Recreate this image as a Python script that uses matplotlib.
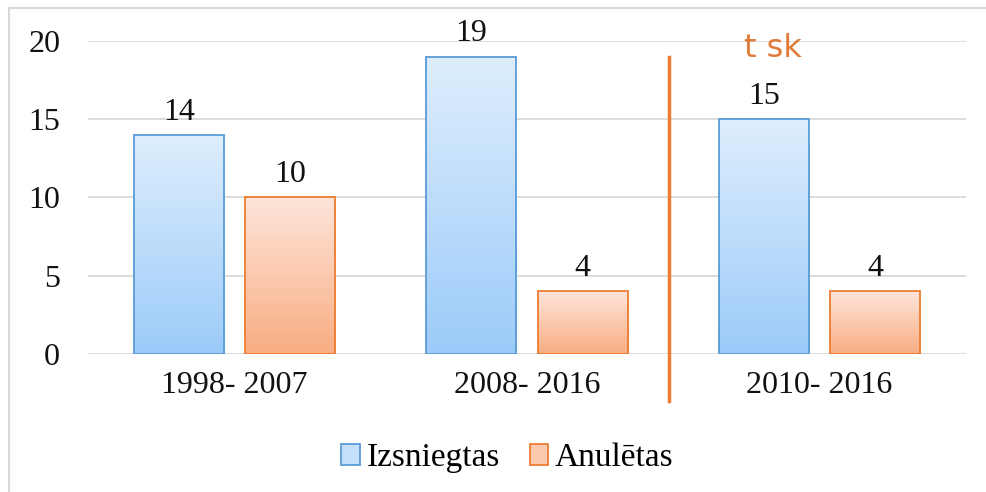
import matplotlib.pyplot as plt
import numpy as np
from matplotlib.patches import Patch
from matplotlib.lines import Line2D

periods = ["1998- 2007", "2008- 2016", "2010- 2016"]
izsniegtas = [14, 19, 15]
anuletas = [10, 4, 4]
series_names = ["Izsniegtas", "Anulētas"]
note_text = "t sk"

plt.rcParams["font.family"] = ["Liberation Serif", "DejaVu Serif"]

blue_top, blue_bottom, blue_edge = "#deeefd", "#9ccbf9", "#5b9bd5"
orange_top, orange_bottom, orange_edge = "#fde5da", "#f9ad82", "#ed7d31"
FS = 23

fig = plt.figure(figsize=(9.87, 4.92), dpi=100)
ax = fig.add_axes([88 / 987, 1 - 354 / 492, (966 - 88) / 987, (354 - 41) / 492])

x = np.arange(len(periods))
width = 0.308
offset = 0.19


def gradient_bars(xs, values, top, bottom, edge):
    bars = ax.bar(xs, values, width, facecolor="none", edgecolor=edge, linewidth=1.3, zorder=3)
    cmap = plt.matplotlib.colors.LinearSegmentedColormap.from_list("g", [bottom, top])
    grad = np.linspace(0, 1, 256).reshape(-1, 1)
    for bar in bars:
        x0, y0 = bar.get_x(), bar.get_y()
        w, h = bar.get_width(), bar.get_height()
        im = ax.imshow(grad, cmap=cmap, aspect="auto", origin="lower",
                       extent=[x0, x0 + w, y0, y0 + h], zorder=2)
        im.set_clip_path(bar)
    for xi, v in zip(xs, values):
        ax.annotate(str(v), (xi, v), xytext=(0, 6), textcoords="offset points",
                    ha="center", va="bottom", fontsize=FS, color="#111111")
    return bars


gradient_bars(x - offset, izsniegtas, blue_top, blue_bottom, blue_edge)
gradient_bars(x + offset, anuletas, orange_top, orange_bottom, orange_edge)

ax.set_xlim(-0.5, len(periods) - 0.5)
ax.set_ylim(0, 20)
ax.set_yticks([0, 5, 10, 15, 20])
ax.yaxis.grid(True, color="#d9d9d9", linewidth=1.3, zorder=0)
ax.set_axisbelow(True)
for s in ax.spines.values():
    s.set_visible(False)
ax.tick_params(length=0, labelsize=FS, colors="#111111")
ax.tick_params(axis="y", pad=20)
ax.tick_params(axis="x", pad=12)
ax.set_xticks(x)
ax.set_xticklabels(periods)

# orange separator line between the periods
ax.add_line(Line2D([1.486, 1.486], [19.0, -3.0], color=orange_edge, linewidth=2.5,
                   clip_on=False, zorder=4))
ax.text(1.84, 18.98, note_text, ha="center", va="baseline", fontsize=23,
        color="#e07b39", family="DejaVu Sans", clip_on=False, zorder=1)

handles = [Patch(facecolor="#c4e0fb", edgecolor=blue_edge, linewidth=1.3),
           Patch(facecolor="#fbc9ae", edgecolor=orange_edge, linewidth=1.3)]
fig.legend(handles, series_names, loc="center", bbox_to_anchor=(0.5 + 14 / 987, 1 - 458 / 492),
           ncol=2, frameon=False, fontsize=24, handlelength=0.55, handleheight=0.55,
           handletextpad=0.2, columnspacing=0.9)

# chart border (top and left)
fig.add_artist(Line2D([9 / 987, 9 / 987], [0, 1 - 8 / 492], color="#d9d9d9", linewidth=1.5,
                      transform=fig.transFigure))
fig.add_artist(Line2D([9 / 987, 1], [1 - 8 / 492, 1 - 8 / 492], color="#d9d9d9", linewidth=1.5,
                      transform=fig.transFigure))

fig.savefig("out.png", dpi=100, facecolor="white")
